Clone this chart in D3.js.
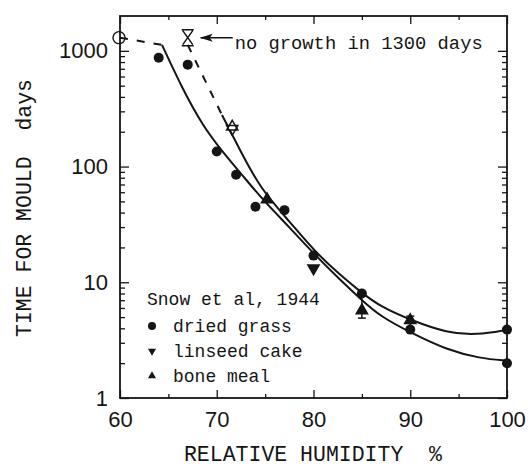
<!DOCTYPE html>
<html>
<head>
<meta charset="utf-8">
<script src="https://cdn.jsdelivr.net/npm/d3@7"></script>
<style>
  body { margin: 0; background: #fff; }
  svg { display: block; }
  text { fill: #151515; }
</style>
</head>
<body>
<svg id="chart" width="528" height="466"></svg>
<script>
// data (relative humidity %, days)
const grassX = [64, 67, 70, 72, 74, 77, 80, 85, 90, 100, 100];
const grassY = [870, 760, 135, 85, 45, 42, 17, 8, 3.9, 3.9, 2.0];
const linseedX = [71.6, 80];
const linseedY = [216, 13.5];
const boneX = [71.6, 75.2, 85, 90];
const boneY = [216, 51, 5.6, 4.6];
const boneErrLo = [null, null, 4.9, 4.1];
const boneErrHi = [null, null, 8.3, 5.1];

// fitted curves
const curveAX = [64.34, 66.51, 68.58, 70.54, 72.71, 74.68, 77.57, 80.16, 82.74, 85.0, 86.87, 90.08, 93.8, 97.2, 100];
const curveAY = [1125, 459, 224, 136, 83, 52.5, 29.5, 17.2, 10.5, 7.0, 5.1, 3.65, 2.6, 2.2, 2.1];
const curveBX = [70.54, 72.4, 74.47, 77.57, 80.16, 82.74, 85.0, 86.87, 90.08, 93.8, 96.9, 100];
const curveBY = [279, 139, 65, 33.2, 18.3, 11.6, 8.1, 6.2, 4.7, 3.65, 3.5, 3.87];
const dashLeftX = [60, 64.34];
const dashLeftY = [1300, 1125];
const dashRightX = [67.0, 70.54];
const dashRightY = [1125, 279];

// no growth markers
const noGrowthX = [60, 67];
const noGrowthY = [1300, 1300];

const xTicks = [60, 70, 80, 90, 100];
const xMinor = [65, 75, 85, 95];
const yTicks = [1, 10, 100, 1000];

const svg = d3.select('#chart');
const mLeft = 120, mRight = 507, mTop = 16, mBottom = 398;

const x = d3.scaleLinear().domain([60, 100]).range([mLeft, mRight]);
const y = d3.scaleLog().domain([1, 2000]).range([mBottom, mTop]);

const yMinor = [];
[1, 10, 100, 1000].forEach(d => {
  for (let k = 2; k <= 9; k++) if (d * k < 2000) yMinor.push(d * k);
});

// axes, ticks pointing inwards
function styleAxis(g) {
  g.select('.domain').remove();
  g.selectAll('line').attr('stroke', '#151515').attr('stroke-width', 1.3);
  g.selectAll('text')
    .style('font-family', '"Liberation Sans", Arial, sans-serif')
    .style('font-size', '22px')
    .attr('fill', '#151515');
}

svg.append('g')
  .attr('transform', 'translate(0,' + mBottom + ')')
  .call(d3.axisBottom(x).tickValues(xTicks).tickSize(-8).tickPadding(13).tickFormat(d3.format('d')))
  .call(styleAxis);
svg.append('g')
  .attr('transform', 'translate(0,' + mBottom + ')')
  .call(d3.axisBottom(x).tickValues(xMinor).tickSize(-4).tickFormat(''))
  .call(styleAxis);
svg.append('g')
  .attr('transform', 'translate(0,' + mTop + ')')
  .call(d3.axisTop(x).tickValues(xTicks).tickSize(-8).tickFormat(''))
  .call(styleAxis);
svg.append('g')
  .attr('transform', 'translate(0,' + mTop + ')')
  .call(d3.axisTop(x).tickValues(xMinor).tickSize(-4).tickFormat(''))
  .call(styleAxis);

svg.append('g')
  .attr('transform', 'translate(' + mLeft + ',0)')
  .call(d3.axisLeft(y).tickValues(yTicks).tickSize(-9).tickPadding(12).tickFormat(d3.format('d')))
  .call(styleAxis);
svg.append('g')
  .attr('transform', 'translate(' + mLeft + ',0)')
  .call(d3.axisLeft(y).tickValues(yMinor).tickSize(-5).tickFormat(''))
  .call(styleAxis);
svg.append('g')
  .attr('transform', 'translate(' + mRight + ',0)')
  .call(d3.axisRight(y).tickValues(yTicks).tickSize(-9).tickFormat(''))
  .call(styleAxis);
svg.append('g')
  .attr('transform', 'translate(' + mRight + ',0)')
  .call(d3.axisRight(y).tickValues(yMinor).tickSize(-5).tickFormat(''))
  .call(styleAxis);

// frame
svg.append('rect')
  .attr('x', mLeft).attr('y', mTop)
  .attr('width', mRight - mLeft).attr('height', mBottom - mTop)
  .attr('fill', 'none').attr('stroke', '#151515').attr('stroke-width', 1.8);

// curves (smoothed through the read points)
const line = d3.line()
  .x(d => x(d[0]))
  .y(d => y(d[1]))
  .curve(d3.curveBasis);

function drawCurve(xs, ys, dashed) {
  svg.append('path')
    .datum(xs.map((d, i) => [d, ys[i]]))
    .attr('d', line)
    .attr('fill', 'none')
    .attr('stroke', '#151515')
    .attr('stroke-width', 2)
    .attr('stroke-dasharray', dashed ? '8,9' : null);
}
drawCurve(curveAX, curveAY, false);
drawCurve(curveBX, curveBY, false);
drawCurve(dashLeftX, dashLeftY, true);
drawCurve(dashRightX, dashRightY, true);

// data points
svg.selectAll('.grass')
  .data(grassX.map((d, i) => [d, grassY[i]]))
  .join('circle')
  .attr('cx', d => x(d[0]))
  .attr('cy', d => y(d[1]))
  .attr('r', 5)
  .attr('fill', '#151515');

const tri = d3.symbol().type(d3.symbolTriangle).size(55);

// error bars for bone meal
boneX.forEach((d, i) => {
  if (boneErrLo[i] == null) return;
  const g = svg.append('g').attr('stroke', '#151515').attr('stroke-width', 1.5);
  g.append('line').attr('x1', x(d)).attr('x2', x(d)).attr('y1', y(boneErrLo[i])).attr('y2', y(boneErrHi[i]));
  g.append('line').attr('x1', x(d) - 4).attr('x2', x(d) + 4).attr('y1', y(boneErrLo[i])).attr('y2', y(boneErrLo[i]));
  g.append('line').attr('x1', x(d) - 4).attr('x2', x(d) + 4).attr('y1', y(boneErrHi[i])).attr('y2', y(boneErrHi[i]));
});

// open symbols where the dashed line meets the curve
const isOpen = (xv) => xv < 72;

svg.selectAll('.bone')
  .data(boneX.map((d, i) => [d, boneY[i]]))
  .join('path')
  .attr('d', tri)
  .attr('transform', d => 'translate(' + x(d[0]) + ',' + (y(d[1]) - 1) + ')')
  .attr('fill', d => isOpen(d[0]) ? '#fff' : '#151515')
  .attr('stroke', '#151515')
  .attr('stroke-width', 1.5);

svg.selectAll('.linseed')
  .data(linseedX.map((d, i) => [d, linseedY[i]]))
  .join('path')
  .attr('d', tri)
  .attr('transform', d => 'translate(' + x(d[0]) + ',' + (y(d[1]) + 1) + ') rotate(180)')
  .attr('fill', d => isOpen(d[0]) ? 'none' : '#151515')
  .attr('stroke', '#151515')
  .attr('stroke-width', 1.5);

// no growth: open circle on the axis and hourglass symbol
svg.append('circle')
  .attr('cx', x(noGrowthX[0]) - 1)
  .attr('cy', y(noGrowthY[0]))
  .attr('r', 6)
  .attr('fill', 'none')
  .attr('stroke', '#151515')
  .attr('stroke-width', 1.4);

const hx = x(noGrowthX[1]), hy = y(noGrowthY[1]);
svg.append('path')
  .attr('d', 'M' + (hx - 6) + ',' + (hy - 8) + 'H' + (hx + 6) +
    'M' + (hx - 6) + ',' + (hy + 8) + 'H' + (hx + 6) +
    'M' + (hx - 5) + ',' + (hy - 7) + 'L' + (hx + 5) + ',' + (hy + 7) +
    'M' + (hx + 5) + ',' + (hy - 7) + 'L' + (hx - 5) + ',' + (hy + 7))
  .attr('fill', 'none')
  .attr('stroke', '#151515')
  .attr('stroke-width', 1.5);

// arrow
svg.append('line')
  .attr('x1', hx + 13).attr('x2', hx + 45)
  .attr('y1', hy).attr('y2', hy)
  .attr('stroke', '#151515').attr('stroke-width', 1.5);
svg.append('path')
  .attr('d', 'M' + (hx + 12) + ',' + hy + 'L' + (hx + 25) + ',' + (hy - 4) + 'L' + (hx + 22) + ',' + hy + 'L' + (hx + 25) + ',' + (hy + 4) + 'Z')
  .attr('fill', '#151515');

const mono = '"Liberation Mono", "Courier New", monospace';

svg.append('text')
  .attr('x', hx + 47).attr('y', hy + 11)
  .style('font-family', mono).style('font-size', '18.8px')
  .text('no growth in 1300 days');

// legend
const legend = svg.append('g').style('font-family', mono).style('font-size', '18px');
legend.append('text').attr('x', 147).attr('y', 305).text('Snow et al, 1944');
const legendItems = ['dried grass', 'linseed cake', 'bone meal'];
legendItems.forEach((t, i) => {
  const ly = 332 + i * 25;
  legend.append('text').attr('x', 173).attr('y', ly).text(t);
  const my = ly - 6;
  if (i === 0) {
    legend.append('circle').attr('cx', 152).attr('cy', my).attr('r', 4).attr('fill', '#151515');
  } else {
    legend.append('path')
      .attr('d', d3.symbol().type(d3.symbolTriangle).size(28))
      .attr('transform', 'translate(152,' + my + ')' + (i === 1 ? ' rotate(180)' : ''))
      .attr('fill', '#151515');
  }
});

// axis titles
svg.append('text')
  .attr('x', 313).attr('y', 461)
  .attr('text-anchor', 'middle')
  .style('font-family', mono).style('font-size', '21.5px')
  .style('white-space', 'pre')
  .text('RELATIVE HUMIDITY  %');

svg.append('text')
  .attr('transform', 'translate(31,208) rotate(-90)')
  .attr('text-anchor', 'middle')
  .style('font-family', mono).style('font-size', '21.5px')
  .style('white-space', 'pre')
  .text('TIME FOR MOULD  days');
</script>
</body>
</html>
